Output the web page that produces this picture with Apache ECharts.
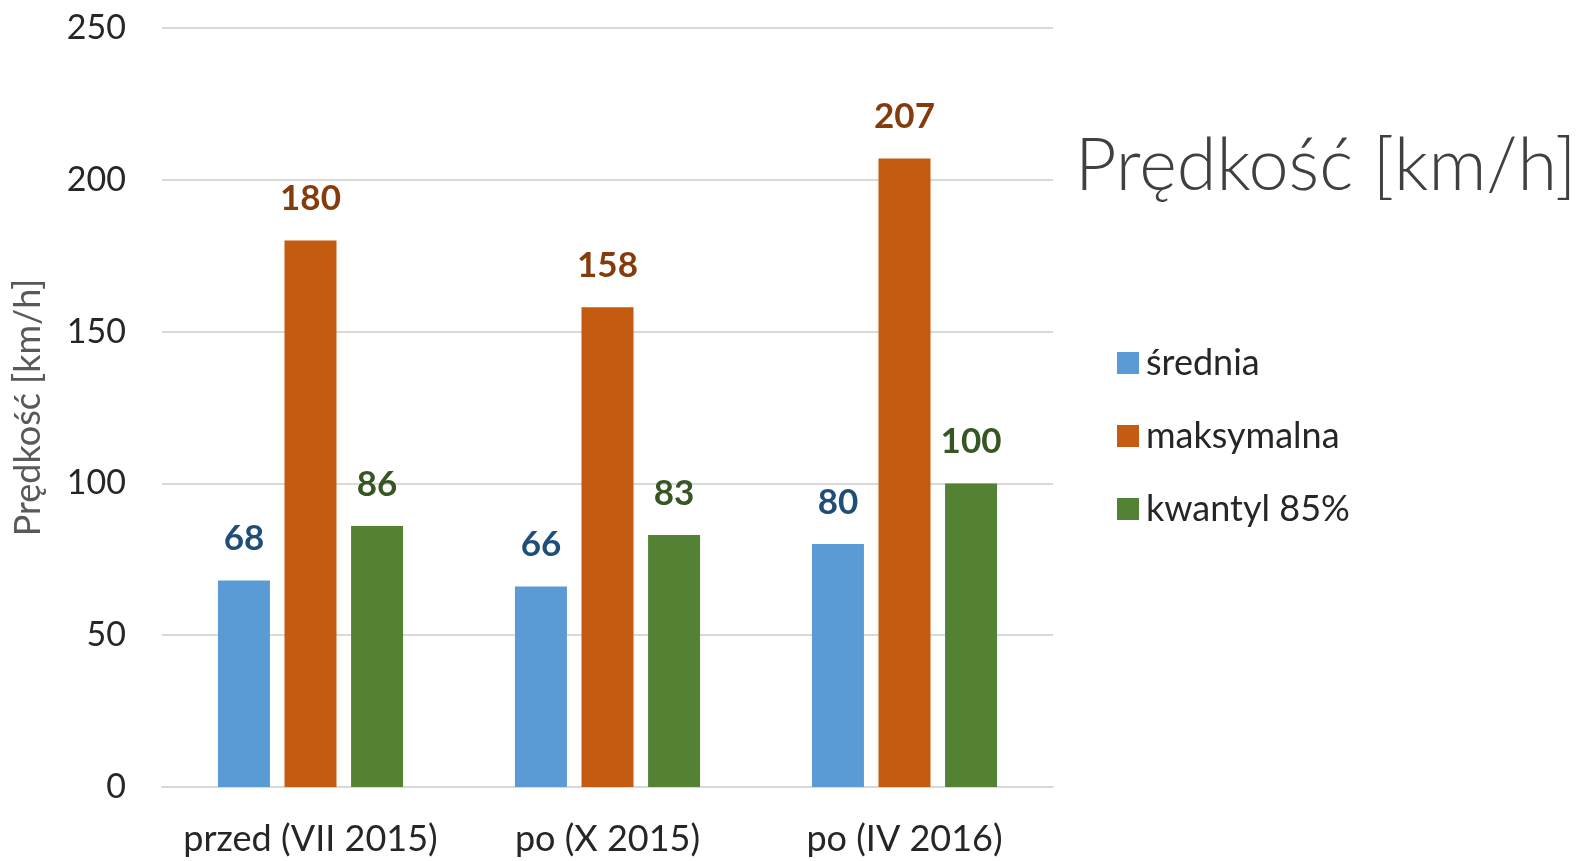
<!DOCTYPE html>
<html>
<head>
<meta charset="utf-8">
<script src="https://cdn.jsdelivr.net/npm/echarts@6/dist/echarts.min.js"></script>
<style>
  html, body { margin: 0; padding: 0; background: #fff; }
  #chart { width: 1581px; height: 861px; }
</style>
</head>
<body>
<div id="chart"></div>
<script>
// dane z wykresu
const categories = ['przed (VII 2015)', 'po (X 2015)', 'po (IV 2016)'];
const sredniaValues = [68, 66, 80];
const maksValues = [180, 158, 207];
const kwantylValues = [86, 83, 100];
const yTicks = [0, 50, 100, 150, 200, 250];

const chart = echarts.init(document.getElementById('chart'));

function barSeries(name, values, color, labelColor) {
  return {
    name: name,
    type: 'bar',
    data: values,
    barWidth: 52,
    barGap: '28%',
    itemStyle: { color: color },
    label: {
      show: true,
      position: 'top',
      distance: 24,
      color: labelColor,
      fontFamily: 'Lato',
      fontWeight: 'bold',
      fontSize: 35
    }
  };
}

chart.setOption({
  animation: false,
  title: {
    text: 'Prędkość [km/h]',
    left: 1070,
    top: 126,
    textStyle: {
      fontFamily: 'Lato',
      fontWeight: 300,
      fontSize: 72,
      color: '#404040'
    }
  },
  legend: {
    orient: 'vertical',
    left: 1112,
    top: 340,
    itemWidth: 22,
    itemHeight: 22,
    itemGap: 37,
    icon: 'rect',
    textStyle: {
      fontFamily: 'Lato',
      fontSize: 36,
      color: '#262626',
      padding: [0, 0, 0, 2]
    }
  },
  grid: {
    left: 162,
    right: 528,
    top: 28,
    bottom: 74
  },
  xAxis: {
    type: 'category',
    data: categories,
    axisTick: { show: false },
    axisLine: { lineStyle: { color: '#D9D9D9', width: 2 } },
    axisLabel: {
      interval: 0,
      margin: 34,
      fontFamily: 'Lato',
      fontSize: 36,
      color: '#262626'
    }
  },
  yAxis: {
    type: 'value',
    min: yTicks[0],
    max: yTicks[yTicks.length - 1],
    interval: 50,
    name: 'Prędkość [km/h]',
    nameLocation: 'middle',
    nameGap: 116,
    nameTextStyle: {
      fontFamily: 'Lato',
      fontSize: 36,
      color: '#595959'
    },
    axisLine: { show: false },
    axisTick: { show: false },
    splitLine: { lineStyle: { color: '#D9D9D9', width: 2 } },
    axisLabel: {
      margin: 36,
      fontFamily: 'Lato',
      fontSize: 34,
      color: '#262626'
    }
  },
  series: [
    barSeries('średnia', sredniaValues, '#5B9BD5', '#1F4E79'),
    barSeries('maksymalna', maksValues, '#C55A11', '#843C0C'),
    barSeries('kwantyl 85%', kwantylValues, '#548235', '#375623')
  ]
});
</script>
</body>
</html>
